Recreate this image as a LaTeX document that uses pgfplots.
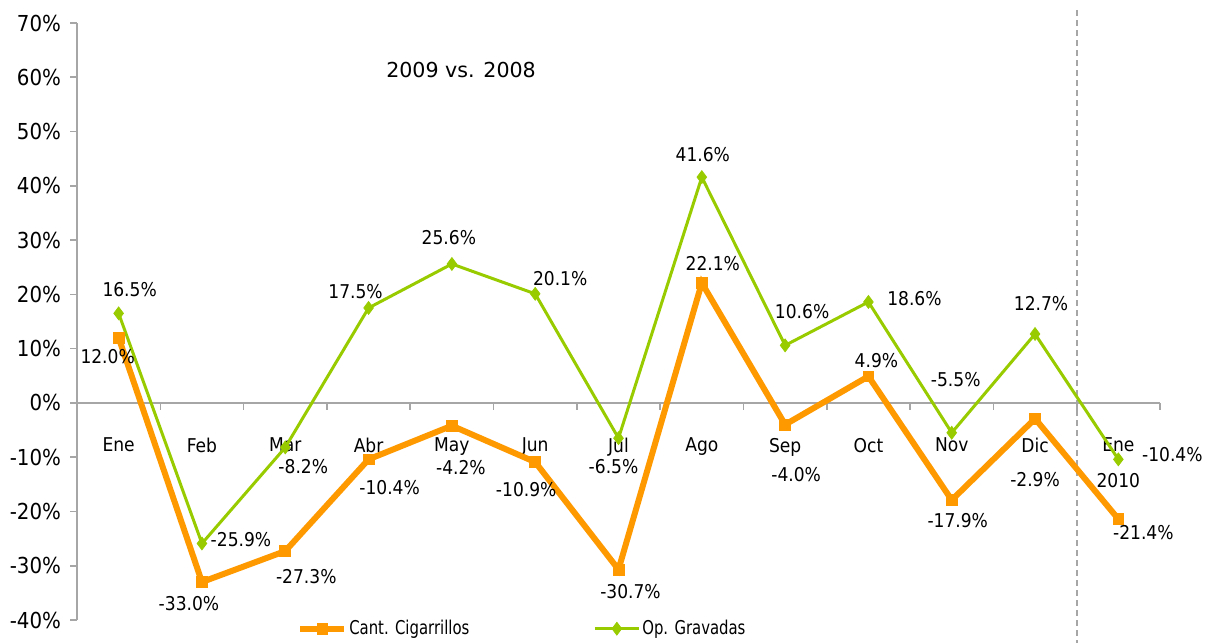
\documentclass[border=0pt]{standalone}
\usepackage{pgfplots}
\pgfplotsset{compat=1.18}
\usepackage{pgfplotstable}
\usepackage{fontspec}
\setmainfont{DejaVu Sans Condensed}
\newfontfamily\widefont{DejaVu Sans}
\definecolor{corange}{RGB}{255,153,0}
\definecolor{cgreen}{RGB}{153,204,0}
\definecolor{axgray}{RGB}{166,166,166}

\pgfplotstableread{
x y dx dy
0 12.0 -5.5 -9.5
1 -33.0 -6.5 -11
2 -27.3 10.5 -13
3 -10.4 10.5 -14
4 -4.2 4.5 -21
5 -10.9 -4.5 -14
6 -30.7 6 -11
7 22.1 5.5 9.5
8 -4.0 5.5 -25
9 4.9 4 8
10 -17.9 3 -10.5
11 -2.9 0 -30.5
12 -21.4 12.5 -7
}\cantcig

\pgfplotstableread{
x y dx dy
0 16.5 5.5 12
1 -25.9 19.5 2
2 -8.2 9 -9.5
3 17.5 -6.5 8
4 25.6 -1.5 13
5 20.1 12.5 7.5
6 -6.5 -2.5 -14
7 41.6 0.5 11.5
8 10.6 8.5 17
9 18.6 23 1.5
10 -5.5 2 26.5
11 12.7 3 15
12 -10.4 27 2.5
}\opgrav

\begin{document}
\begin{tikzpicture}
\begin{axis}[
  scale only axis,
  width=541.5pt, height=298.5pt,
  xmin=-0.5, xmax=12.5,
  ymin=-40, ymax=70,
  clip=false,
  font=\fontsize{9.5}{11.4}\selectfont,
  /pgf/number format/assume math mode=true,
  axis y line=left,
  axis x line=middle,
  axis line style={draw=axgray, line width=0.8pt, -},
  ytick={-40,-30,...,70},
  yticklabel={\pgfmathprintnumber{\tick}\%},
  yticklabel style={font=\fontsize{11}{13}\selectfont, xshift=-1pt},
  xtick={0.5,1.5,...,12.5},
  xticklabels={,,,,,,,,,,,,,},
  tick style={draw=axgray, line width=0.8pt},
  major tick length=3.5pt,
  tick align=outside,
  extra x ticks={0,1,...,12},
  extra x tick labels={Ene,Feb,Mar,Abr,May,Jun,Jul,Ago,Sep,Oct,Nov,Dic,{Ene\\2010}},
  extra x tick style={major tick length=0pt,
    tick label style={align=center, anchor=north, yshift=-14pt,
      font=\fontsize{9.5}{18}\selectfont}},
  legend columns=2,
  legend style={at={(axis cs:2.14,-41.6)}, anchor=west, draw=none, fill=none,
    inner sep=0pt, font=\fontsize{9.5}{11.4}\selectfont,
    nodes={inner sep=1pt},
    /tikz/every even column/.append style={column sep=61pt}},
  legend image code/.code={\draw[mark repeat=2,mark phase=2,#1] plot coordinates {(0pt,0pt)(11pt,0pt)(22pt,0pt)};},
]
\draw[axgray, line width=0.8pt, dash pattern=on 3pt off 2pt] (axis cs:11.5,72.4) -- (axis cs:11.5,-44.2);

\addplot[corange, line width=3pt, mark=square*, mark size=2.7pt,
  mark options={solid, line width=0.4pt},
  nodes near coords={\pgfmathprintnumber[fixed,fixed zerofill,precision=1]{\pgfplotspointmeta}\%},
  visualization depends on={\thisrow{dx} \as \dx},
  visualization depends on={\thisrow{dy} \as \dy},
  every node near coord/.style={text=black, anchor=center, inner sep=0pt,
    xshift=\dx pt, yshift=\dy pt, font=\fontsize{9.5}{11.4}\selectfont}]
  table[x=x, y=y] {\cantcig};
\addlegendentry{\scalebox{0.87}[1]{Cant. Cigarrillos}}

\addplot[cgreen, line width=1.5pt, mark=diamond*, mark size=3.2pt,
  mark options={solid, line width=0.4pt},
  nodes near coords={\pgfmathprintnumber[fixed,fixed zerofill,precision=1]{\pgfplotspointmeta}\%},
  visualization depends on={\thisrow{dx} \as \dx},
  visualization depends on={\thisrow{dy} \as \dy},
  every node near coord/.style={text=black, anchor=center, inner sep=0pt,
    xshift=\dx pt, yshift=\dy pt, font=\fontsize{9.5}{11.4}\selectfont}]
  table[x=x, y=y] {\opgrav};
\addlegendentry{\scalebox{0.87}[1]{Op. Gravadas}}

\node[font=\widefont\fontsize{10.3}{12}\selectfont] at (axis cs:4.11,61.4) {2009 vs. 2008};
\end{axis}
\pgfresetboundingbox
\path[use as bounding box] ([xshift=-38.5pt,yshift=-11.5pt]current axis.south west) rectangle ++(604.5pt,321.5pt);
\end{tikzpicture}
\end{document}
